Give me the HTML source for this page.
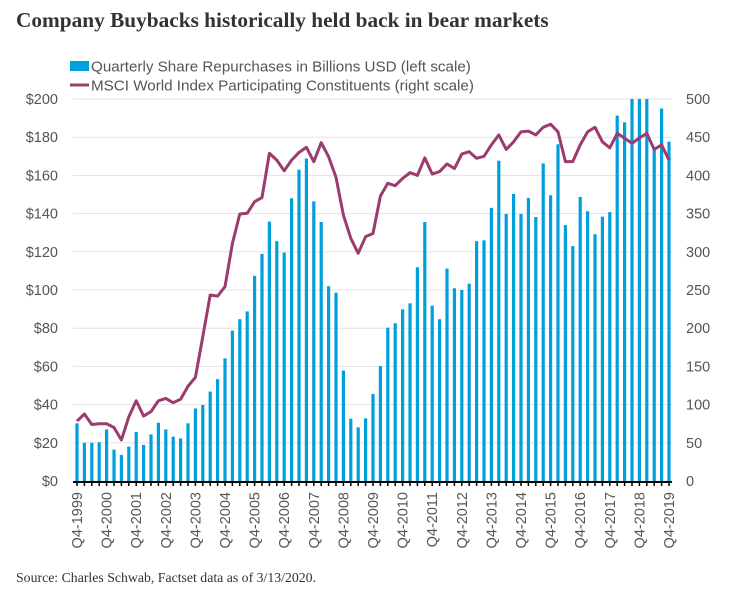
<!DOCTYPE html>
<html><head><meta charset="utf-8"><style>
body{margin:0;background:#fff;width:739px;height:599px;overflow:hidden}
svg{display:block}
</style></head><body>
<svg id="chart" width="739" height="599" xmlns="http://www.w3.org/2000/svg">
<text x="16" y="27" font-family="Liberation Serif, serif" font-weight="bold" font-size="21.3" fill="#333">Company Buybacks historically held back in bear markets</text>
<g font-family="Liberation Sans, sans-serif" font-size="15.2" fill="#555">
<rect x="70" y="61" width="19" height="10" fill="#00a0dc"/>
<text x="91" y="71.5">Quarterly Share Repurchases in Billions USD (left scale)</text>
<line x1="70" y1="85" x2="89" y2="85" stroke="#9b3b6e" stroke-width="3"/>
<text x="91" y="90.5">MSCI World Index Participating Constituents (right scale)</text>
</g>
<g id="grid"></g><g id="bars"></g><g id="line"></g><g id="axes"></g>
<text x="16" y="582" font-family="Liberation Serif, serif" font-size="13.8" fill="#333">Source: Charles Schwab, Factset data as of 3/13/2020.</text>
</svg>
<script>
const buybacks=[30.2,20,20,20.3,27,16.4,13.6,18,25.7,18.9,24.4,30.5,27,23.2,22.3,30.2,38,39.8,46.8,53.3,64.2,78.7,84.7,88.8,107.4,118.9,135.8,125.6,119.6,148,163,168.8,146.4,135.6,102,98.6,57.8,32.6,28.1,32.8,45.6,60.2,80.3,82.6,89.9,93,111.9,135.6,91.8,84.7,111.2,100.9,100,103.3,125.6,126,143,167.7,139.8,150.3,139.8,148.2,138.2,166.3,149.6,176.3,134,123,148.7,141.2,129.2,138.4,140.8,191.3,187.8,205,210,204,173.3,195,177.7];
const constituents=[78.5,87.7,74,75,75,70,53.7,84,105,85,90.8,105,108,102.5,107,124,135.7,189,243.5,242,254.4,311,349.5,350.4,365.6,371,429,420,406,420,430,436.8,418,442.8,424.5,397.5,348,317.7,298,319.8,324,373,389.7,386.6,396,403.6,400,423,401.8,405,415,409,428,431,422.4,425,440,453,434,444,457,458,453,463,467,457,418,418,440,457,463,444,436,455,448.6,442,449,455,434,440,420];
const leftTicks=[0,20,40,60,80,100,120,140,160,180,200];
const rightTicks=[0,50,100,150,200,250,300,350,400,450,500];
const yearLabels=["Q4-1999","Q4-2000","Q4-2001","Q4-2002","Q4-2003","Q4-2004","Q4-2005","Q4-2006","Q4-2007","Q4-2008","Q4-2009","Q4-2010","Q4-2011","Q4-2012","Q4-2013","Q4-2014","Q4-2015","Q4-2016","Q4-2017","Q4-2018","Q4-2019"];
const NS="http://www.w3.org/2000/svg";
const Y0=481,Y1=99,X0=77,STEP=(669-77)/(buybacks.length-1);
const xS=i=>X0+i*STEP;
const yL=v=>Y0-(Math.min(v,200)/200)*(Y0-Y1);
const yR=v=>Y0-(v/500)*(Y0-Y1);
function mk(tag,attrs,parent){const e=document.createElementNS(NS,tag);for(const k in attrs)e.setAttribute(k,attrs[k]);parent.appendChild(e);return e;}
const grid=document.getElementById('grid'),barsG=document.getElementById('bars'),lineG=document.getElementById('line'),axes=document.getElementById('axes');
leftTicks.forEach((t,k)=>{
 const y=yL(t);
 if(t>0){const g=mk('line',{x1:73,x2:672,y1:y,y2:y,stroke:'#e3e3e3','stroke-width':1},grid);
 
 }
 const l=mk('text',{x:58,y:y+5,'text-anchor':'end','font-family':'Liberation Sans, sans-serif','font-size':14.5,fill:'#555'},axes);
 l.textContent='$'+t;
 
 
});
rightTicks.forEach(t=>{
 const r=mk('text',{x:686,y:yR(t)+5,'font-family':'Liberation Sans, sans-serif','font-size':14.5,fill:'#555'},axes);
 r.textContent=t;
 
 
});
buybacks.forEach((v,i)=>{
 const y=yL(v);
 const b=mk('rect',{x:xS(i)-1.6,y:y,width:3.2,height:Y0-y,fill:'#00a0dc'},barsG);
 
 
});
const p=mk('polyline',{points:constituents.map((v,i)=>xS(i)+','+yR(v)).join(' '),fill:'none',stroke:'#9b3b6e','stroke-width':3,'stroke-linejoin':'round'},lineG);


const ax=mk('line',{x1:73,x2:672,y1:Y0+1,y2:Y0+1,stroke:'#000','stroke-width':2},axes);


buybacks.forEach((v,i)=>{
 const t=mk('line',{x1:xS(i),x2:xS(i),y1:Y0,y2:Y0+5,stroke:'#000','stroke-width':1.5},axes);
 
 
});
yearLabels.forEach((s,k)=>{
 const x=xS(k*4)+5,y=492;
 const t=mk('text',{x:x,y:y,transform:`rotate(-90 ${x} ${y})`,'text-anchor':'end','font-family':'Liberation Sans, sans-serif','font-size':14.5,fill:'#555'},axes);
 t.textContent=s;
 
 
});
</script>
</body></html>
